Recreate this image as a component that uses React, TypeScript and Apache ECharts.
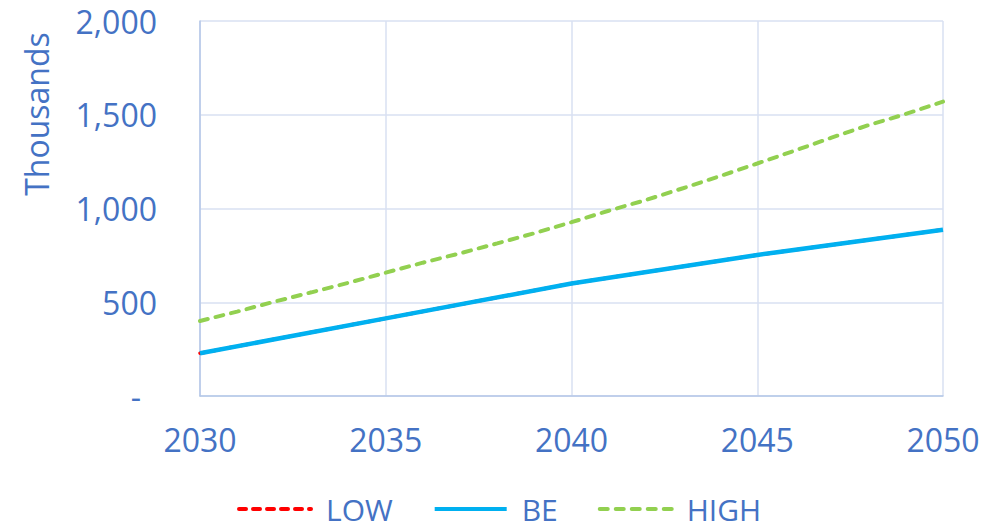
import React, { useEffect, useRef } from "react";
import * as echarts from "echarts";

// Projection years and values (thousands)
const beYears = [2030, 2035, 2040, 2045, 2050];
const beValues = [228, 414, 600, 752, 887];
const lowYears = [2030, 2035, 2040, 2045, 2050];
const lowValues = [228, 414, 600, 752, 887];
const highYears = [
  2030, 2031, 2032, 2033, 2034, 2035, 2036, 2037, 2038, 2039, 2040,
  2041, 2042, 2043, 2044, 2045, 2046, 2047, 2048, 2049, 2050,
];
const highValues = [
  400, 450, 503, 553, 604, 658, 711, 761, 814, 868, 927,
  988, 1045, 1108, 1173, 1240, 1308, 1378, 1445, 1504, 1570,
];
const seriesNames = ["LOW", "BE", "HIGH"];
const yAxisTitle = "Thousands";

const TEXT = "#4472C4";
const FONT = "'Open Sans', sans-serif";

const pairs = (xs: number[], ys: number[]) => xs.map((x, i) => [x, ys[i]]);

export default function App() {
  const ref = useRef<HTMLDivElement>(null);

  useEffect(() => {
    if (!ref.current) return;
    const chart = echarts.init(ref.current, undefined, { renderer: "svg" });
    chart.setOption({
      animation: false,
      textStyle: { fontFamily: FONT },
      grid: { left: 200, right: 59, top: 21, bottom: 135 },
      legend: {
        data: seriesNames,
        bottom: 2,
        left: 232,
        itemWidth: 72,
        itemHeight: 12,
        itemGap: 40,
        itemStyle: { opacity: 0 },
        lineStyle: { width: 4 },
        textStyle: {
          color: TEXT,
          fontSize: 30,
          fontFamily: FONT,
          padding: [0, 0, 0, 10],
        },
      },
      graphic: [
        {
          type: "text",
          x: 36,
          y: 114,
          rotation: Math.PI / 2,
          style: {
            text: yAxisTitle,
            fill: TEXT,
            fontSize: 32,
            fontFamily: FONT,
            align: "center",
            verticalAlign: "middle",
          },
        },
      ],
      xAxis: {
        type: "value",
        min: 2030,
        max: 2050,
        interval: 5,
        axisLine: { lineStyle: { color: "#B4C7E7", width: 1.5 } },
        axisTick: { show: false },
        axisLabel: {
          color: TEXT,
          fontSize: 32,
          margin: 27,
          formatter: (v: number) => String(v),
        },
        splitLine: { show: true, lineStyle: { color: "#D9E1F2", width: 1.5 } },
      },
      yAxis: {
        type: "value",
        min: 0,
        max: 2000,
        interval: 500,
        axisLine: { show: true, lineStyle: { color: "#B4C7E7", width: 1.5 } },
        axisTick: { show: false },
        axisLabel: {
          color: TEXT,
          fontSize: 32,
          margin: 43,
          formatter: (v: number) =>
            v === 0 ? "{z|-}" : v.toLocaleString("en-US"),
          rich: {
            z: { color: TEXT, fontSize: 32, padding: [0, 16, 0, 0] },
          },
        },
        splitLine: { show: true, lineStyle: { color: "#D9E1F2", width: 1.5 } },
      },
      series: [
        {
          name: "LOW",
          type: "line",
          data: pairs(lowYears, lowValues),
          symbol: "none",
          color: "#FF0000",
          lineStyle: { color: "#FF0000", width: 3.5, type: [7, 7], cap: "round" },
        },
        {
          name: "BE",
          type: "line",
          data: pairs(beYears, beValues),
          symbol: "none",
          color: "#00B0F0",
          lineStyle: { color: "#00B0F0", width: 4.5 },
        },
        {
          name: "HIGH",
          type: "line",
          data: pairs(highYears, highValues),
          symbol: "none",
          color: "#92D050",
          lineStyle: { color: "#92D050", width: 4, type: [8, 8], cap: "round" },
        },
      ],
    });
    return () => chart.dispose();
  }, []);

  return (
    <div
      ref={ref}
      style={{ position: "absolute", left: 0, top: 0, width: 1002, height: 531 }}
    />
  );
}
